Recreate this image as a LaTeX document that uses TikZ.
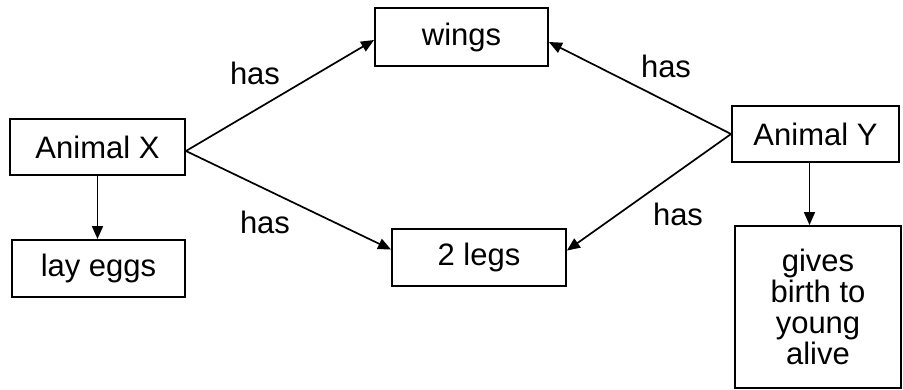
\documentclass[tikz,border=0pt]{standalone}
\usepackage{fontspec}
\setmainfont{Liberation Sans}
\usetikzlibrary{arrows.meta}
\begin{document}
\begin{tikzpicture}[x=1pt,y=-1pt,
  box/.style={draw=black,line width=1.9pt,inner sep=0pt,font=\fontsize{31pt}{31pt}\selectfont,align=center},
  conn/.style={line width=1.7pt,-{Triangle[length=13pt,width=11pt]}},
  lbl/.style={font=\fontsize{31pt}{31pt}\selectfont,inner sep=0pt}]
\useasboundingbox (0,0) rectangle (903,389);
\node[box,minimum width=173pt,minimum height=58pt] (w) at (461.5,37) {wings};
\node[box,minimum width=175pt,minimum height=56pt] (ax) at (97.5,147) {Animal X};
\node[box,minimum width=173pt,minimum height=57pt] (le) at (98.5,268.5) {lay eggs};
\node[box,minimum width=174pt,minimum height=57pt] (tl) at (479,257.5) {2 legs};
\node[box,minimum width=167pt,minimum height=56pt] (ay) at (815.5,134) {Animal Y};
\node[box,minimum width=166pt,minimum height=162pt] (gb) at (818,307) {gives\\birth to\\young\\alive};
\draw[conn] ([yshift=-4pt]ax.east) -- ([yshift=-3pt]w.west);
\draw[conn] ([yshift=-4pt]ax.east) -- ([yshift=8pt]tl.west);
\draw[conn] (ay.west) -- ([yshift=-5pt]w.east);
\draw[conn] (ay.west) -- ([yshift=7pt]tl.east);
\draw[conn] (ax.south) -- (ax.south |- le.north);
\draw[conn] ([xshift=-6pt]ay.south) -- ([xshift=-6pt]ay.south |- gb.north);
\node[lbl] (h1) at (255,73) {has};
\node[lbl] (h2) at (265,222) {has};
\node[lbl] (h3) at (666,66) {has};
\node[lbl] (h4) at (678,214) {has};
\end{tikzpicture}
\end{document}
